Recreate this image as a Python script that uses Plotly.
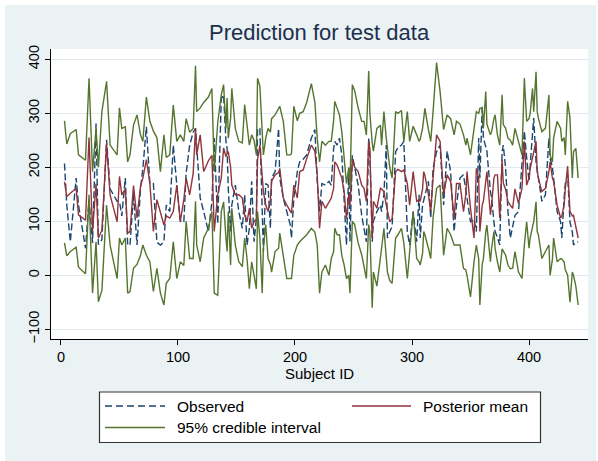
import plotly.graph_objects as go

subject_id = [3, 5, 8, 13, 15, 21, 24, 27, 30, 32, 35, 39, 42, 48, 50, 52, 55, 57, 59, 62,
              65, 68, 70, 73, 76, 79, 82, 85, 88, 90, 93, 96, 99, 102, 105, 107, 110, 113, 115, 116,
              119, 122, 126, 129, 131, 134, 137, 139, 141, 142, 143, 145, 146, 149, 152, 155, 157, 159, 161, 163,
              165, 167, 168, 170, 172, 173, 175, 177, 179, 180, 183, 186, 187, 190, 193, 196, 197, 199, 202, 204,
              207, 210, 214, 217, 219, 221, 223, 226, 229, 231, 233, 234, 236, 238, 240, 242, 244, 246, 247, 249,
              251, 254, 257, 259, 261, 263, 264, 266, 267, 270, 273, 274, 276, 278, 279, 281, 283, 286, 288, 291,
              293, 296, 298, 301, 304, 306, 307, 309, 310, 311, 314, 316, 318, 321, 324, 327, 330, 333, 336, 338,
              341, 344, 346, 347, 350, 353, 355, 357, 358, 360, 361, 363, 364, 367, 368, 370, 371, 373, 375, 377,
              378, 380, 382, 384, 386, 388, 391, 394, 396, 398, 400, 401, 403, 404, 406, 407, 408, 411, 414, 417,
              418, 420, 421, 424, 427, 428, 430, 431, 433, 435, 437, 438, 440, 442]

observed = [207, 130, 62, 180, 130, 50, 140, 60, 281, 57, 66, 251, 160, 137, 137, 110, 180, 56, 56, 150,
            56, 161, 198, 275, 170, 170, 61, 56, 62, 130, 118, 241, 167, 100, 98, 190, 241, 265, 272, 240,
            143, 118, 81, 136, 254, 95, 327, 334, 248, 235, 160, 81, 130, 167, 118, 87, 149, 56, 87, 174,
            62, 105, 272, 272, 81, 44, 170, 167, 87, 180, 192, 272, 180, 143, 118, 93, 69, 143, 192, 210,
            215, 223, 254, 270, 174, 118, 170, 167, 174, 167, 234, 248, 241, 254, 223, 149, 56, 198, 62, 222,
            198, 167, 111, 87, 62, 254, 223, 62, 100, 118, 130, 118, 150, 241, 69, 81, 90, 229, 236, 241,
            248, 81, 56, 118, 62, 149, 69, 130, 140, 149, 174, 106, 198, 229, 241, 130, 230, 192, 81, 130,
            180, 186, 160, 143, 99, 104, 81, 254, 180, 312, 254, 240, 230, 155, 143, 99, 81, 70, 56, 229,
            241, 198, 118, 69, 93, 111, 118, 204, 267, 217, 174, 204, 267, 291, 210, 195, 186, 137, 149, 254,
            217, 200, 180, 118, 99, 69, 143, 170, 186, 99, 80, 56, 60, 62]

post_mean = [173, 146, 152, 161, 112, 102, 255, 82, 170, 69, 83, 244, 149, 99, 183, 149, 160, 78, 81, 166,
             106, 165, 180, 214, 170, 81, 140, 118, 93, 110, 106, 118, 167, 100, 140, 180, 149, 189, 272, 223,
             260, 192, 212, 222, 81, 150, 180, 236, 220, 225, 229, 200, 167, 149, 149, 143, 111, 99, 124, 87,
             99, 105, 214, 241, 192, 155, 130, 118, 140, 174, 186, 190, 198, 143, 130, 118, 115, 167, 143, 192,
             195, 216, 241, 230, 186, 87, 137, 124, 136, 143, 161, 210, 204, 192, 180, 155, 105, 150, 130, 215,
             200, 192, 167, 161, 137, 248, 234, 69, 137, 124, 161, 160, 155, 130, 118, 99, 105, 192, 196, 192,
             195, 170, 130, 192, 137, 140, 137, 160, 192, 185, 150, 118, 180, 260, 248, 149, 186, 174, 105, 170,
             170, 118, 150, 192, 124, 69, 198, 180, 81, 130, 137, 180, 192, 112, 130, 180, 186, 186, 106, 214,
             171, 159, 136, 130, 124, 160, 133, 161, 248, 167, 180, 198, 220, 229, 248, 192, 180, 155, 161, 192,
             210, 180, 174, 130, 106, 110, 130, 160, 202, 118, 110, 111, 90, 69]

ci_lower = [60, 36, 44, 52, 15, 3, 149, -33, 62, -49, -28, 130, 56, -6, 69, 56, 69, -33, -30, 13,
            20, 37, 56, 37, 25, -30, 13, -33, -55, -15, -6, 62, -6, 25, 18, 100, 31, 31, 137, 56,
            25, 69, 87, 118, -33, -37, 118, 136, 69, 44, 118, 19, 124, 56, 25, 16, 69, 31, -25, 25,
            0, -25, 118, 69, -33, 50, 94, 31, 20, 6, 44, 50, 78, 31, -6, -6, -6, 37, 56, 62,
            69, 75, 87, 80, 56, -33, 6, 19, 0, 31, 44, 87, 75, 75, 37, 19, -6, 0, -33, 100,
            94, 60, 38, 13, -6, 94, 80, -60, 6, -20, 40, 50, 87, 40, 6, -10, -15, 69, 75, 87,
            60, -6, 40, 118, 31, 25, 19, 40, 81, 75, 50, 31, 106, 161, 167, 37, 87, 75, 56, 56,
            56, 13, 10, 0, -40, 25, 56, 30, -55, 20, 31, 80, 93, 25, 50, 81, 50, 25, 6, 49,
            44, 37, 19, 12, 13, 44, 6, -6, 56, 99, 50, 69, 90, 99, 136, 81, 75, 31, 44, 56,
            0, 30, 69, 25, 31, 30, 25, 10, 0, -50, 6, 0, -20, -55]

ci_upper = [286, 243, 262, 270, 223, 213, 365, 192, 272, 200, 303, 359, 241, 223, 310, 272, 275, 210, 223, 278,
            297, 260, 248, 330, 285, 267, 255, 192, 260, 218, 223, 315, 248, 260, 248, 290, 265, 272, 388, 303,
            310, 320, 330, 346, 192, 283, 334, 353, 272, 328, 254, 291, 346, 272, 248, 245, 316, 272, 241, 260,
            250, 223, 365, 350, 248, 223, 254, 272, 265, 290, 297, 310, 313, 285, 223, 223, 225, 313, 286, 300,
            303, 320, 355, 320, 254, 210, 248, 241, 248, 248, 286, 322, 310, 297, 266, 223, 170, 200, 160, 353,
            342, 310, 285, 285, 260, 378, 300, 245, 230, 272, 278, 241, 303, 254, 235, 200, 180, 303, 300, 305,
            248, 303, 248, 276, 260, 248, 252, 272, 290, 309, 270, 248, 303, 394, 340, 270, 297, 290, 260, 285,
            280, 260, 241, 254, 223, 278, 303, 300, 309, 310, 272, 340, 280, 260, 266, 290, 297, 260, 241, 334,
            279, 272, 254, 250, 241, 272, 245, 223, 365, 285, 290, 300, 346, 303, 377, 303, 291, 266, 272, 334,
            223, 210, 254, 285, 272, 248, 255, 223, 322, 291, 180, 229, 235, 180]

x_ticks = [0, 100, 200, 300, 400]
y_ticks = [-100, 0, 100, 200, 300, 400]

NAVY = "#1A476F"
MAROON = "#90353B"
GREEN = "#55752F"
BG = "#EAF2F3"
FONT = "Liberation Sans, Arial, sans-serif"

fig = go.Figure()
fig.add_trace(go.Scatter(x=subject_id, y=observed, mode="lines", name="Observed",
                         line=dict(color=NAVY, width=1.4, dash="7px,3px"), showlegend=False))
fig.add_trace(go.Scatter(x=subject_id, y=post_mean, mode="lines", name="Posterior mean",
                         line=dict(color=MAROON, width=1.4), showlegend=False))
fig.add_trace(go.Scatter(x=subject_id, y=ci_lower, mode="lines", name="95% credible interval",
                         line=dict(color=GREEN, width=1.4), showlegend=False))
fig.add_trace(go.Scatter(x=subject_id, y=ci_upper, mode="lines", name="95% credible interval",
                         line=dict(color=GREEN, width=1.4), showlegend=False))

# geometry helpers (pixel -> paper)
L, R, T, B = 51, 588, 49, 339
W, H = 598, 461
def px(x):
    return (x - L) / (R - L)
def py(y):
    return (B - y) / (B - T)

shapes = [
    dict(type="rect", xref="paper", yref="paper", x0=px(5), x1=px(596), y0=py(5), y1=py(461),
         fillcolor=BG, line=dict(width=0), layer="below"),
    dict(type="rect", xref="paper", yref="paper", x0=0, x1=1, y0=0, y1=1,
         fillcolor="white", line=dict(width=0), layer="below"),
    # legend box
    dict(type="rect", xref="paper", yref="paper", x0=px(99.5), x1=px(540.5), y0=py(392), y1=py(442.5),
         fillcolor="white", line=dict(color="#333333", width=1.2), layer="above"),
    dict(type="line", xref="paper", yref="paper", x0=px(105), x1=px(165), y0=py(406), y1=py(406),
         line=dict(color=NAVY, width=1.4, dash="7px,4px"), layer="above"),
    dict(type="line", xref="paper", yref="paper", x0=px(352), x1=px(411), y0=py(406), y1=py(406),
         line=dict(color=MAROON, width=1.4), layer="above"),
    dict(type="line", xref="paper", yref="paper", x0=px(105), x1=px(165), y0=py(427.5), y1=py(427.5),
         line=dict(color=GREEN, width=1.4), layer="above"),
]

annotations = [
    dict(text="Prediction for test data", xref="paper", yref="paper", x=px(319), y=py(33),
         xanchor="center", yanchor="middle", showarrow=False,
         font=dict(family=FONT, size=22, color="#1E2F4D")),
    dict(text="Subject ID", xref="paper", yref="paper", x=px(319), y=py(373.5),
         xanchor="center", yanchor="middle", showarrow=False,
         font=dict(family=FONT, size=15, color="black")),
    dict(text="Observed", xref="paper", yref="paper", x=px(175), y=py(406),
         xanchor="left", yanchor="middle", showarrow=False,
         font=dict(family=FONT, size=15.5, color="black")),
    dict(text="Posterior mean", xref="paper", yref="paper", x=px(421), y=py(406),
         xanchor="left", yanchor="middle", showarrow=False,
         font=dict(family=FONT, size=15.5, color="black")),
    dict(text="95% credible interval", xref="paper", yref="paper", x=px(175), y=py(427.5),
         xanchor="left", yanchor="middle", showarrow=False,
         font=dict(family=FONT, size=15.5, color="black")),
]

fig.update_layout(
    width=W, height=H, autosize=False,
    margin=dict(l=L, r=W - R, t=T, b=H - B, pad=0),
    paper_bgcolor="white", plot_bgcolor="white",
    showlegend=False,
    shapes=shapes, annotations=annotations,
    font=dict(family=FONT, size=15, color="black"),
    xaxis=dict(range=[-8.5, 450.4], tickvals=x_ticks, ticktext=[str(v) for v in x_ticks],
               showgrid=False, zeroline=False, showline=True, linecolor="black", linewidth=1,
               ticks="outside", ticklen=5, tickcolor="black", tickwidth=1, ticklabelstandoff=0,
               tickfont=dict(family=FONT, size=14.5, color="black"), mirror=False),
    yaxis=dict(range=[-118, 419], tickvals=y_ticks,
               showgrid=True, gridcolor="#E1EAEE", gridwidth=1, zeroline=False,
               showline=True, linecolor="black", linewidth=1,
               ticks="outside", ticklen=5, tickcolor="black", tickwidth=1, tickangle=-90,
               tickfont=dict(family=FONT, size=14.5, color="black"), mirror=False),
)

fig.write_html("out.html")
